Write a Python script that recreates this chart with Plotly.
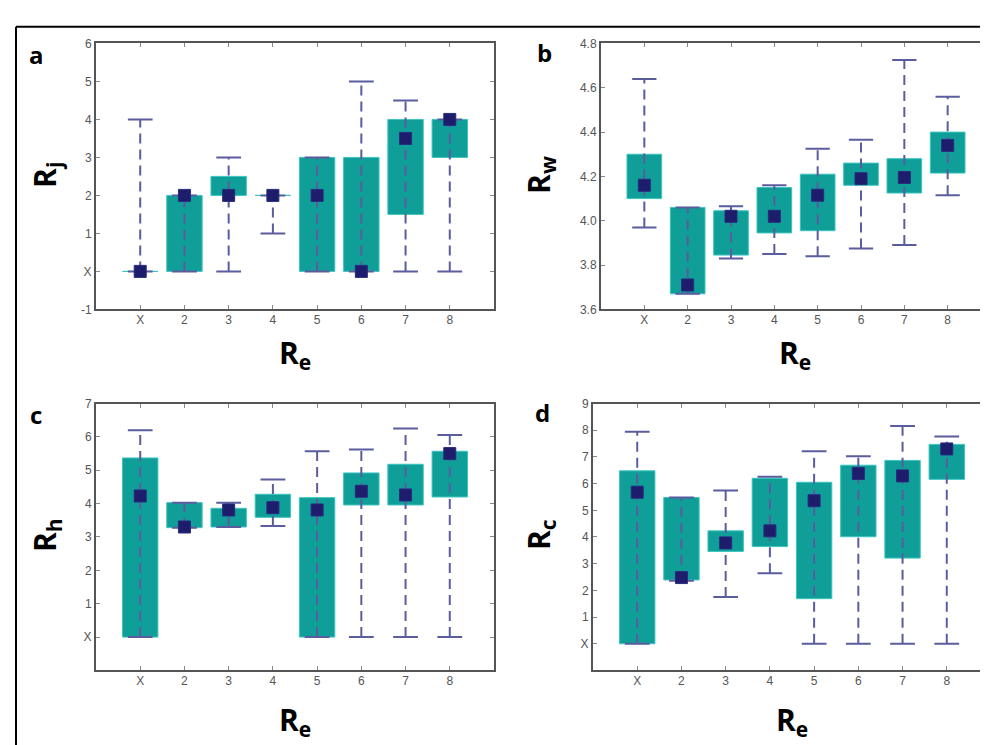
import plotly.graph_objects as go

W, H = 988, 745

categories = ["X", "2", "3", "4", "5", "6", "7", "8"]

# Panel a: R_j
rj_min = [0, 0, 0, 1, 0, 0, 0, 0]
rj_q1 = [0, 0, 2, 2, 0, 0, 1.5, 3]
rj_med = [0, 2, 2, 2, 2, 0, 3.5, 4]
rj_q3 = [0, 2, 2.5, 2, 3, 3, 4, 4]
rj_max = [4, 2, 3, 2, 3, 5, 4.5, 4]

# Panel b: R_w
rw_min = [3.97, 3.67, 3.83, 3.85, 3.84, 3.875, 3.89, 4.115]
rw_q1 = [4.10, 3.67, 3.845, 3.945, 3.955, 4.16, 4.125, 4.215]
rw_med = [4.16, 3.71, 4.02, 4.02, 4.115, 4.19, 4.195, 4.34]
rw_q3 = [4.30, 4.06, 4.045, 4.15, 4.21, 4.26, 4.28, 4.40]
rw_max = [4.64, 4.06, 4.065, 4.16, 4.325, 4.365, 4.725, 4.56]

# Panel c: R_h
rh_min = [0, 3.28, 3.3, 3.33, 0, 0, 0, 0]
rh_q1 = [0, 3.28, 3.3, 3.59, 0, 3.96, 3.96, 4.2]
rh_med = [4.23, 3.3, 3.81, 3.88, 3.81, 4.37, 4.26, 5.5]
rh_q3 = [5.37, 4.03, 3.86, 4.28, 4.18, 4.92, 5.18, 5.57]
rh_max = [6.2, 4.03, 4.03, 4.72, 5.57, 5.62, 6.25, 6.06]

# Panel d: R_c
rc_min = [0, 2.36, 1.75, 2.64, 0, 0, 0, 0]
rc_q1 = [0, 2.39, 3.46, 3.64, 1.69, 4.01, 3.21, 6.16]
rc_med = [5.68, 2.48, 3.78, 4.23, 5.36, 6.38, 6.29, 7.30]
rc_q3 = [6.48, 5.48, 4.23, 6.2, 6.05, 6.69, 6.87, 7.47]
rc_max = [7.94, 5.48, 5.74, 6.26, 7.21, 7.03, 8.16, 7.77]

# y tick labels
a_ticks = [-1, 0, 1, 2, 3, 4, 5, 6]
a_text = ["-1", "X", "1", "2", "3", "4", "5", "6"]
b_ticks = [3.6, 3.8, 4.0, 4.2, 4.4, 4.6, 4.8]
b_text = ["3.6", "3.8", "4.0", "4.2", "4.4", "4.6", "4.8"]
c_ticks = [0, 1, 2, 3, 4, 5, 6, 7]
c_text = ["X", "1", "2", "3", "4", "5", "6", "7"]
d_ticks = [0, 1, 2, 3, 4, 5, 6, 7, 8, 9]
d_text = ["X", "1", "2", "3", "4", "5", "6", "7", "8", "9"]

TEAL = "#0f9e98"
TEAL_EDGE = "#3cc4be"
WHISK = "#5a5c9e"
MED = "#1d1d6b"
FRAME = "#555555"
TICKC = "#555555"

fig = go.Figure()

panels = [
    dict(mn=rj_min, q1=rj_q1, md=rj_med, q3=rj_q3, mx=rj_max, yr=[-1, 6],
         tv=a_ticks, tt=a_text, dom_x=(88, 486), dom_y=(29, 300),
         ytitle="R<sub>j</sub>", ytx=38, yty=163, xtx=287, xty=345,
         letter="a", lx=28, ly=40),
    dict(mn=rw_min, q1=rw_q1, md=rw_med, q3=rw_q3, mx=rw_max, yr=[3.6, 4.8],
         tv=b_ticks, tt=b_text, dom_x=(593, 983), dom_y=(29, 300),
         ytitle="R<sub>w</sub>", ytx=532, yty=163, xtx=787, xty=345,
         letter="b", lx=536, ly=38),
    dict(mn=rh_min, q1=rh_q1, md=rh_med, q3=rh_q3, mx=rh_max, yr=[-1, 7],
         tv=c_ticks, tt=c_text, dom_x=(88, 486), dom_y=(396, 668),
         ytitle="R<sub>h</sub>", ytx=38, yty=530, xtx=287, xty=720,
         letter="c", lx=28, ly=407),
    dict(mn=rc_min, q1=rc_q1, md=rc_med, q3=rc_q3, mx=rc_max, yr=[-1, 9],
         tv=d_ticks, tt=d_text, dom_x=(585, 983), dom_y=(396, 668),
         ytitle="R<sub>c</sub>", ytx=532, yty=530, xtx=784, xty=720,
         letter="d", lx=534, ly=405),
]

positions = list(range(1, len(categories) + 1))
CAP = 0.28
BOXW = 0.8

annotations = []
for k, p in enumerate(panels, start=1):
    xa = "x" if k == 1 else f"x{k}"
    ya = "y" if k == 1 else f"y{k}"
    # whiskers (dashed)
    wx, wy = [], []
    cx, cy = [], []
    for i, pos in enumerate(positions):
        wx += [pos, pos, None]
        wy += [p["mn"][i], p["mx"][i], None]
        cx += [pos - CAP, pos + CAP, None, pos - CAP, pos + CAP, None]
        cy += [p["mn"][i], p["mn"][i], None, p["mx"][i], p["mx"][i], None]
    fig.add_trace(go.Scatter(x=wx, y=wy, mode="lines", xaxis=xa, yaxis=ya,
                             line=dict(color=WHISK, width=2, dash="10px,6px"),
                             hoverinfo="skip", showlegend=False))
    fig.add_trace(go.Scatter(x=cx, y=cy, mode="lines", xaxis=xa, yaxis=ya,
                             line=dict(color=WHISK, width=2),
                             hoverinfo="skip", showlegend=False))
    # boxes
    heights = [q3 - q1 for q1, q3 in zip(p["q1"], p["q3"])]
    fig.add_trace(go.Bar(x=positions, y=heights, base=p["q1"], width=BOXW,
                         xaxis=xa, yaxis=ya,
                         marker=dict(color=TEAL, line=dict(color=TEAL_EDGE, width=1)),
                         showlegend=False))
    # medians
    fig.add_trace(go.Scatter(x=positions, y=p["md"], mode="markers", xaxis=xa, yaxis=ya,
                             marker=dict(symbol="square", size=12, color=MED,
                                         line=dict(color="#2a2a80", width=1)),
                             showlegend=False))
    x0, x1 = p["dom_x"]
    y0, y1 = p["dom_y"]
    axkey = "xaxis" if k == 1 else f"xaxis{k}"
    aykey = "yaxis" if k == 1 else f"yaxis{k}"
    fig.layout[axkey] = dict(
        domain=[x0 / W, x1 / W], anchor=ya, range=[0, len(categories) + 1],
        tickvals=positions, ticktext=categories, showgrid=False, zeroline=False,
        showline=True, linecolor=FRAME, linewidth=2, mirror="allticks",
        ticks="inside", ticklen=4, tickcolor="#888888", ticklabelstandoff=-2,
        tickfont=dict(family="Liberation Sans, Arial", size=12, color=TICKC),
        fixedrange=True)
    fig.layout[aykey] = dict(
        domain=[1 - y1 / H, 1 - y0 / H], anchor=xa, range=p["yr"],
        tickvals=p["tv"], ticktext=p["tt"], showgrid=False, zeroline=False,
        showline=True, linecolor=FRAME, linewidth=2, mirror="allticks",
        ticks="inside", ticklen=4, tickcolor="#888888",
        tickfont=dict(family="Liberation Sans, Arial", size=12, color=TICKC),
        fixedrange=True)
    annotations.append(dict(text=f"<b>{p['ytitle']}</b>", x=p["ytx"] / W, y=1 - p["yty"] / H,
                            xref="paper", yref="paper", showarrow=False, textangle=-90,
                            font=dict(family="Open Sans", size=30, color="black"),
                            xanchor="center", yanchor="middle"))
    annotations.append(dict(text="<b>R<sub>e</sub></b>", x=p["xtx"] / W, y=1 - p["xty"] / H,
                            xref="paper", yref="paper", showarrow=False,
                            font=dict(family="Open Sans", size=30, color="black"),
                            xanchor="center", yanchor="middle"))
    annotations.append(dict(text=f"<b>{p['letter']}</b>", x=p["lx"] / W, y=1 - p["ly"] / H,
                            xref="paper", yref="paper", showarrow=False,
                            font=dict(family="Open Sans", size=24, color="black"),
                            xanchor="center", yanchor="middle"))

shapes = [
    dict(type="line", xref="paper", yref="paper", x0=8 / W, x1=1, y0=1 - 12 / H, y1=1 - 12 / H,
         line=dict(color="black", width=2)),
    dict(type="line", xref="paper", yref="paper", x0=8 / W, x1=8 / W, y0=0, y1=1 - 12 / H,
         line=dict(color="black", width=2)),
]

fig.update_layout(
    width=W, height=H, margin=dict(l=0, r=0, t=0, b=0),
    paper_bgcolor="white", plot_bgcolor="white",
    annotations=annotations, shapes=shapes, barmode="overlay", showlegend=False,
)

fig.write_html("out.html")
